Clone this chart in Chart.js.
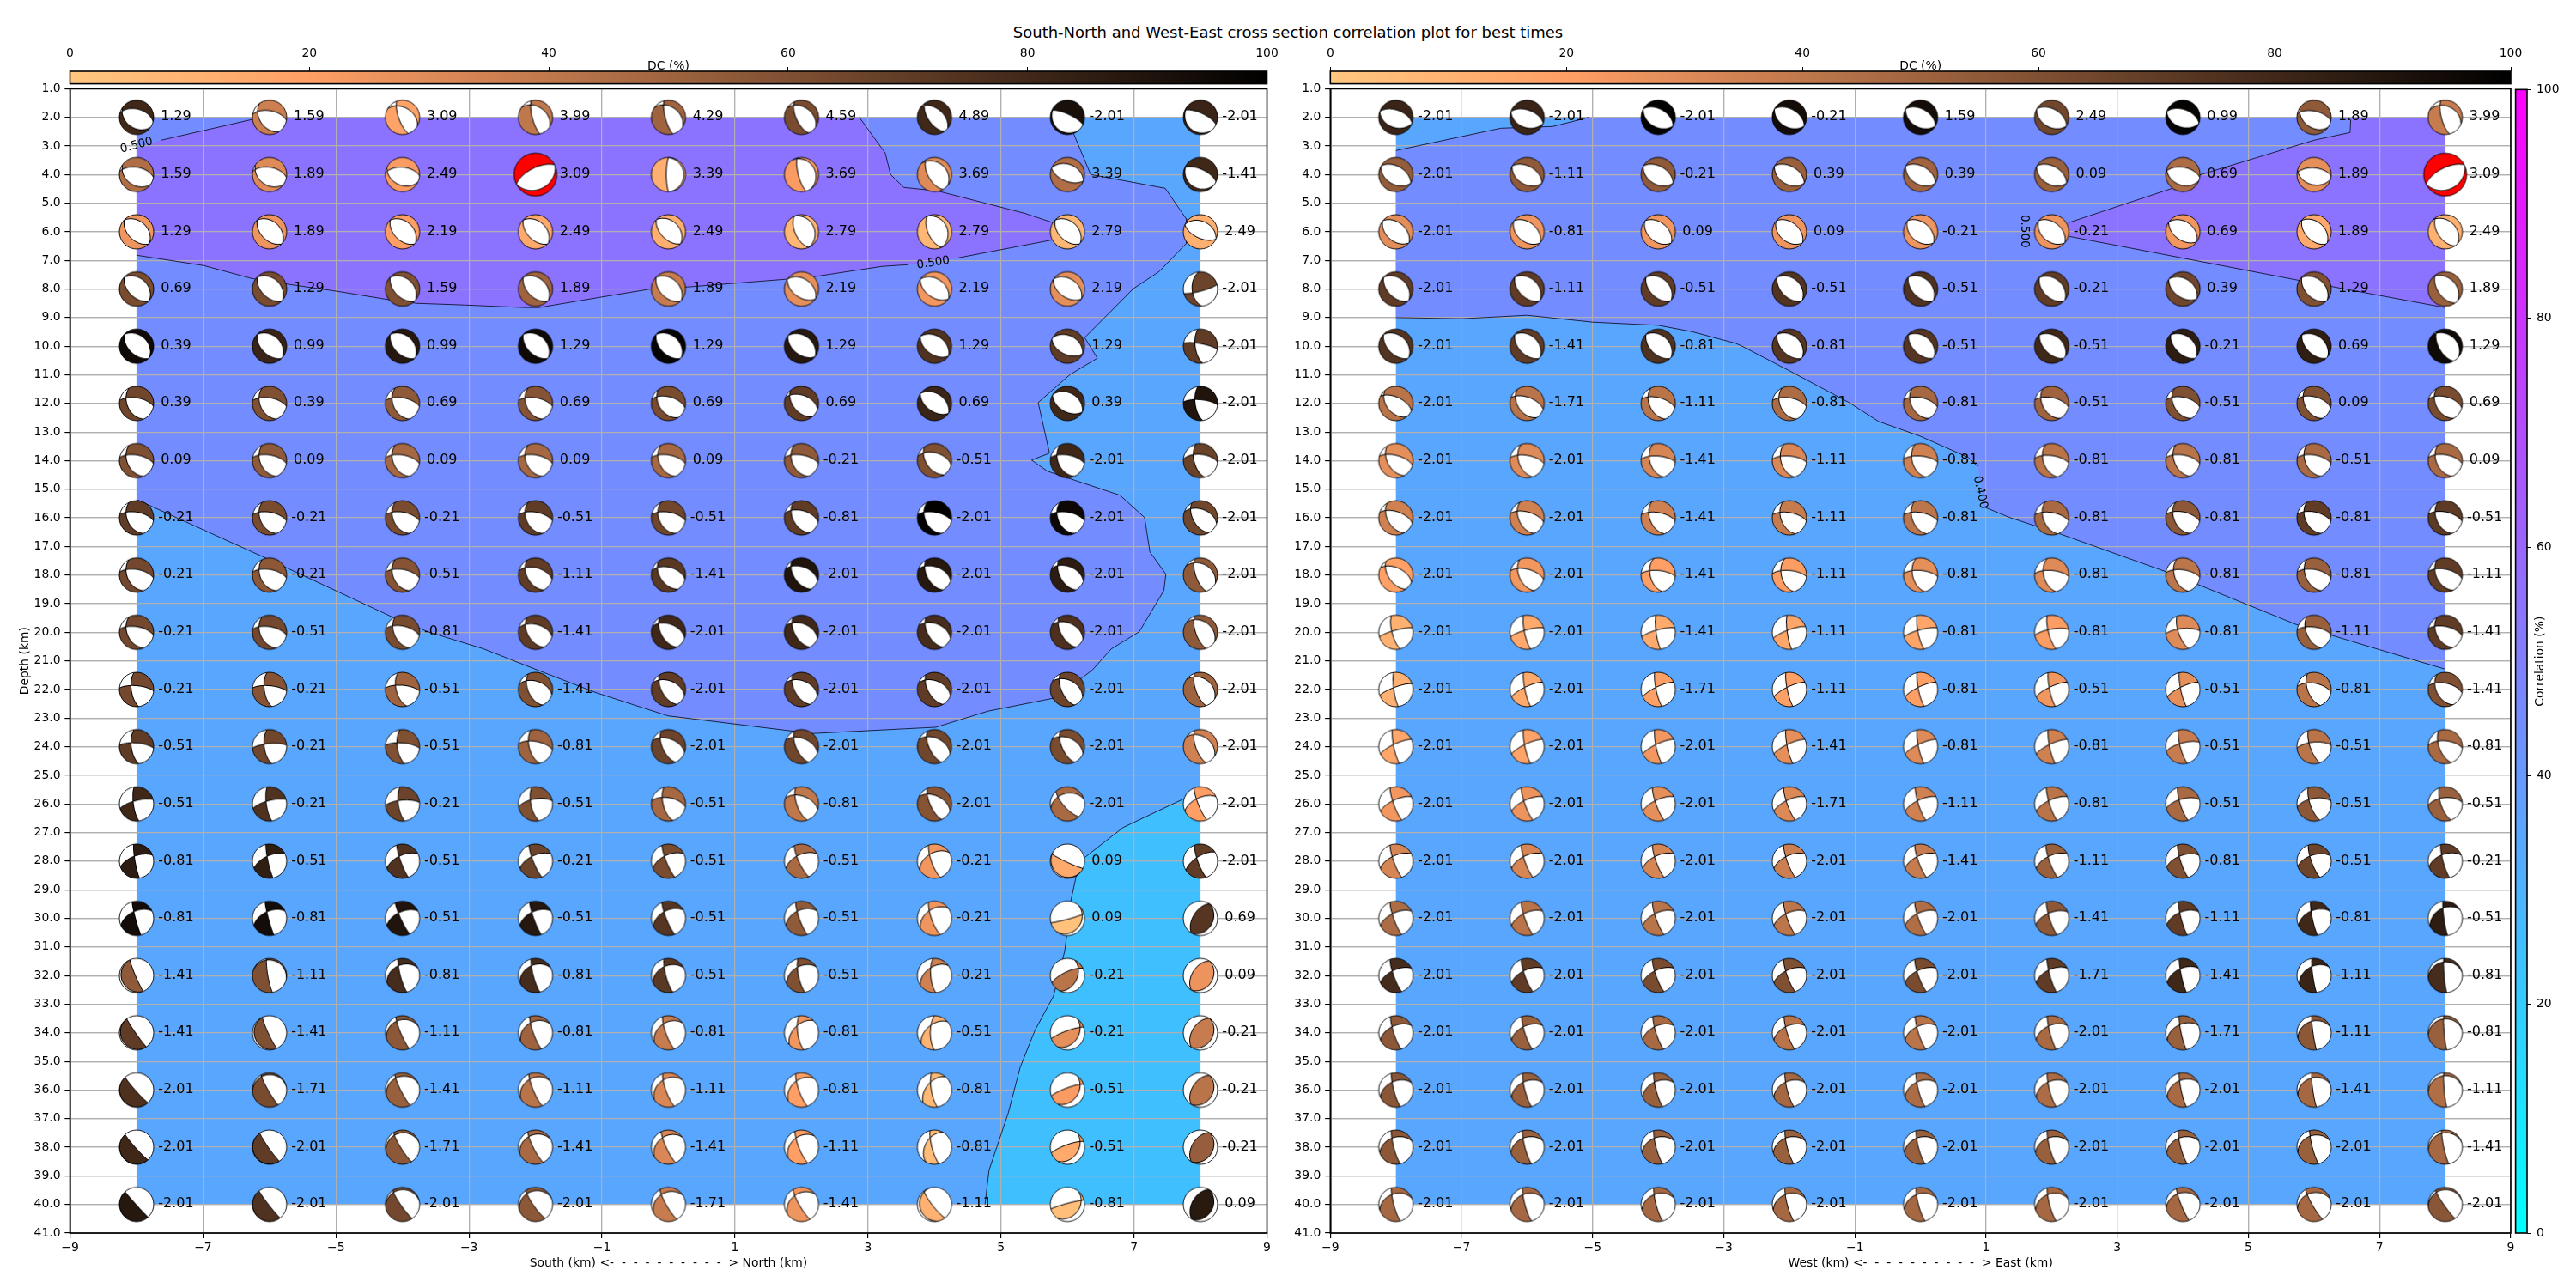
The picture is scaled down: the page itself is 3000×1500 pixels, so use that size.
<!DOCTYPE html>
<html>
<head>
<meta charset="utf-8">
<title>Cross section correlation plot</title>
<script src="https://cdn.jsdelivr.net/npm/chart.js@4"></script>
<style>
  html, body { margin: 0; padding: 0; background: #fff; width: 3000px; height: 1500px; overflow: hidden; }
  canvas { position: absolute; }
  #title { position: absolute; left: 0; width: 3000px; top: 26px; text-align: center; font: 18px "DejaVu Sans"; line-height: 24px; color: #000; }
</style>
</head>
<body>
<div id="title">South-North and West-East cross section correlation plot for best times</div>
<canvas id="leftPanel" width="1490" height="1410" style="left:0;top:90px"></canvas>
<canvas id="rightPanel" width="1444" height="1410" style="left:1490px;top:90px"></canvas>
<canvas id="leftDc" width="1490" height="50" style="left:0;top:50px"></canvas>
<canvas id="rightDc" width="1460" height="50" style="left:1490px;top:50px"></canvas>
<canvas id="corrBar" width="75" height="1410" style="left:2925px;top:90px"></canvas>
<script>
const columns = [-8, -6, -4, -2, 0, 2, 4, 6, 8]
const depths = [2, 4, 6, 8, 10, 12, 14, 16, 18, 20, 22, 24, 26, 28, 30, 32, 34, 36, 38, 40]
const xTickValues = [-9, -7, -5, -3, -1, 1, 3, 5, 7, 9]

// time shift labels, one row per depth
const leftTimes = [
  [1.29, 1.59, 3.09, 3.99, 4.29, 4.59, 4.89, -2.01, -2.01],
  [1.59, 1.89, 2.49, 3.09, 3.39, 3.69, 3.69, 3.39, -1.41],
  [1.29, 1.89, 2.19, 2.49, 2.49, 2.79, 2.79, 2.79, 2.49],
  [0.69, 1.29, 1.59, 1.89, 1.89, 2.19, 2.19, 2.19, -2.01],
  [0.39, 0.99, 0.99, 1.29, 1.29, 1.29, 1.29, 1.29, -2.01],
  [0.39, 0.39, 0.69, 0.69, 0.69, 0.69, 0.69, 0.39, -2.01],
  [0.09, 0.09, 0.09, 0.09, 0.09, -0.21, -0.51, -2.01, -2.01],
  [-0.21, -0.21, -0.21, -0.51, -0.51, -0.81, -2.01, -2.01, -2.01],
  [-0.21, -0.21, -0.51, -1.11, -1.41, -2.01, -2.01, -2.01, -2.01],
  [-0.21, -0.51, -0.81, -1.41, -2.01, -2.01, -2.01, -2.01, -2.01],
  [-0.21, -0.21, -0.51, -1.41, -2.01, -2.01, -2.01, -2.01, -2.01],
  [-0.51, -0.21, -0.51, -0.81, -2.01, -2.01, -2.01, -2.01, -2.01],
  [-0.51, -0.21, -0.21, -0.51, -0.51, -0.81, -2.01, -2.01, -2.01],
  [-0.81, -0.51, -0.51, -0.21, -0.51, -0.51, -0.21, 0.09, -2.01],
  [-0.81, -0.81, -0.51, -0.51, -0.51, -0.51, -0.21, 0.09, 0.69],
  [-1.41, -1.11, -0.81, -0.81, -0.51, -0.51, -0.21, -0.21, 0.09],
  [-1.41, -1.41, -1.11, -0.81, -0.81, -0.81, -0.51, -0.21, -0.21],
  [-2.01, -1.71, -1.41, -1.11, -1.11, -0.81, -0.81, -0.51, -0.21],
  [-2.01, -2.01, -1.71, -1.41, -1.41, -1.11, -0.81, -0.51, -0.21],
  [-2.01, -2.01, -2.01, -2.01, -1.71, -1.41, -1.11, -0.81, 0.09]
]
const rightTimes = [
  [-2.01, -2.01, -2.01, -0.21, 1.59, 2.49, 0.99, 1.89, 3.99],
  [-2.01, -1.11, -0.21, 0.39, 0.39, 0.09, 0.69, 1.89, 3.09],
  [-2.01, -0.81, 0.09, 0.09, -0.21, -0.21, 0.69, 1.89, 2.49],
  [-2.01, -1.11, -0.51, -0.51, -0.51, -0.21, 0.39, 1.29, 1.89],
  [-2.01, -1.41, -0.81, -0.81, -0.51, -0.51, -0.21, 0.69, 1.29],
  [-2.01, -1.71, -1.11, -0.81, -0.81, -0.51, -0.51, 0.09, 0.69],
  [-2.01, -2.01, -1.41, -1.11, -0.81, -0.81, -0.81, -0.51, 0.09],
  [-2.01, -2.01, -1.41, -1.11, -0.81, -0.81, -0.81, -0.81, -0.51],
  [-2.01, -2.01, -1.41, -1.11, -0.81, -0.81, -0.81, -0.81, -1.11],
  [-2.01, -2.01, -1.41, -1.11, -0.81, -0.81, -0.81, -1.11, -1.41],
  [-2.01, -2.01, -1.71, -1.11, -0.81, -0.51, -0.51, -0.81, -1.41],
  [-2.01, -2.01, -2.01, -1.41, -0.81, -0.81, -0.51, -0.51, -0.81],
  [-2.01, -2.01, -2.01, -1.71, -1.11, -0.81, -0.51, -0.51, -0.51],
  [-2.01, -2.01, -2.01, -2.01, -1.41, -1.11, -0.81, -0.51, -0.21],
  [-2.01, -2.01, -2.01, -2.01, -2.01, -1.41, -1.11, -0.81, -0.51],
  [-2.01, -2.01, -2.01, -2.01, -2.01, -1.71, -1.41, -1.11, -0.81],
  [-2.01, -2.01, -2.01, -2.01, -2.01, -2.01, -1.71, -1.11, -0.81],
  [-2.01, -2.01, -2.01, -2.01, -2.01, -2.01, -2.01, -1.41, -1.11],
  [-2.01, -2.01, -2.01, -2.01, -2.01, -2.01, -2.01, -2.01, -1.41],
  [-2.01, -2.01, -2.01, -2.01, -2.01, -2.01, -2.01, -2.01, -2.01]
]

// double couple percentage, sets the ball colour
const leftDc = [
  [80, 36, 18, 40, 50, 62, 80, 92, 82],
  [45, 30, 22, 40, 12, 22, 30, 45, 80],
  [25, 25, 20, 15, 12, 8, 8, 8, 12],
  [62, 62, 60, 50, 38, 28, 24, 28, 66],
  [95, 82, 88, 95, 98, 88, 75, 70, 70],
  [65, 60, 55, 58, 62, 70, 82, 80, 90],
  [60, 55, 48, 48, 48, 55, 60, 80, 67],
  [70, 62, 62, 70, 65, 70, 99, 96, 65],
  [64, 56, 58, 70, 72, 90, 88, 86, 55],
  [64, 64, 62, 70, 80, 80, 78, 76, 55],
  [64, 58, 50, 60, 70, 70, 70, 66, 50],
  [70, 65, 60, 50, 66, 65, 65, 62, 35],
  [80, 75, 66, 60, 48, 40, 58, 47, 20],
  [86, 85, 75, 66, 62, 47, 24, 15, 70],
  [94, 94, 90, 88, 73, 55, 25, 3, 73],
  [55, 60, 78, 78, 72, 60, 35, 42, 26],
  [70, 60, 56, 50, 38, 24, 10, 28, 38],
  [76, 62, 52, 42, 32, 20, 7, 22, 42],
  [80, 70, 56, 47, 32, 20, 5, 15, 53],
  [88, 75, 64, 56, 38, 25, 11, 4, 87]
]
const rightDc = [
  [82, 82, 99, 94, 94, 65, 98, 55, 38],
  [54, 55, 55, 52, 50, 52, 46, 28, 40],
  [29, 25, 24, 25, 25, 25, 24, 15, 11],
  [70, 70, 70, 74, 75, 70, 65, 60, 52],
  [74, 70, 75, 73, 73, 80, 86, 85, 95],
  [42, 42, 42, 46, 48, 50, 60, 60, 62],
  [28, 30, 33, 32, 35, 42, 42, 47, 47],
  [35, 35, 35, 38, 41, 47, 56, 70, 71],
  [19, 24, 20, 21, 28, 30, 41, 52, 70],
  [11, 15, 14, 16, 17, 21, 30, 52, 70],
  [11, 15, 19, 19, 20, 24, 28, 42, 60],
  [16, 18, 24, 28, 30, 35, 38, 42, 47],
  [24, 26, 28, 31, 35, 42, 47, 56, 52],
  [33, 33, 33, 36, 38, 52, 60, 66, 70],
  [46, 42, 42, 41, 45, 56, 70, 80, 86],
  [78, 70, 62, 60, 62, 70, 80, 82, 78],
  [56, 52, 47, 42, 42, 47, 52, 56, 52],
  [57, 52, 52, 48, 46, 46, 47, 48, 45],
  [56, 52, 52, 52, 52, 52, 52, 52, 48],
  [48, 48, 48, 48, 48, 48, 48, 48, 57]
]

// nodal planes: dip direction 1, dip 1, dip direction 2, dip 2, and 1 when the centre is coloured
const g = [10, 63, 245, 45]
const dipA = [225, 52, 42, 36]
const oblA = [335, 63, 250, 80]
const oblB = [335, 76, 258, 80]
const thrustR = [302, 50, 122, 28, 1]
const thrustM = [340, 80, 125, 36, 1]
const tilt = [5, 72, 262, 65]
const flat = [30, 50, 210, 42]
const leftPlanes = [
  [[15, 50, 215, 38], [10, 58, 235, 42], [30, 42, 250, 72], [35, 38, 255, 75], [35, 38, 255, 75], [35, 40, 245, 65], [40, 48, 235, 60], [25, 75, 225, 14], [25, 70, 225, 14]],
  [[10, 55, 215, 38], [10, 55, 215, 38], [5, 55, 205, 38], [333, 65, 155, 30], [270, 80, 85, 12], [255, 75, 60, 20], [240, 60, 40, 30], [202, 58, 22, 40], [25, 65, 215, 20]],
  [[225, 50, 42, 38], [225, 50, 42, 38], [225, 50, 42, 38], [225, 52, 42, 38], [225, 55, 45, 36], [245, 60, 65, 25], [245, 60, 65, 25], [225, 50, 42, 38], [205, 60, 25, 38]],
  [dipA, dipA, dipA, dipA, [225, 50, 42, 38], [215, 50, 35, 40], [215, 50, 35, 40], [215, 50, 35, 40], [265, 50, 165, 80, 1]],
  [dipA, dipA, dipA, dipA, dipA, [218, 50, 38, 38], [215, 50, 35, 40], [205, 50, 28, 38], [262, 65, 10, 78]],
  [g, g, g, g, [15, 58, 235, 45], [20, 50, 230, 50], [215, 52, 35, 42], [210, 50, 30, 38], [262, 65, 5, 72]],
  [g, g, g, g, g, g, [15, 52, 235, 50], g, [5, 60, 255, 60]],
  [g, g, g, g, g, [15, 55, 240, 50], g, g, [20, 48, 240, 55]],
  [g, g, g, [15, 55, 240, 50], [15, 52, 235, 50], [20, 50, 235, 55], [20, 50, 240, 55], [22, 48, 240, 55], [30, 35, 250, 68]],
  [g, g, [12, 60, 245, 50], [15, 52, 240, 52], [20, 50, 240, 55], [22, 48, 240, 58], [22, 48, 240, 58], [25, 45, 240, 60], [35, 35, 250, 68]],
  [tilt, tilt, [5, 70, 255, 60], [18, 50, 245, 55], [22, 48, 240, 58], [22, 48, 240, 58], [22, 48, 240, 60], [28, 45, 245, 62], [35, 35, 250, 68]],
  [tilt, [355, 75, 262, 65], tilt, [10, 65, 255, 60], [20, 52, 245, 62], [22, 50, 245, 65], [25, 48, 245, 65], [25, 48, 245, 65], [35, 40, 250, 68]],
  [[345, 74, 262, 75], [345, 74, 262, 75], [355, 72, 262, 70], [350, 66, 258, 68], [10, 60, 255, 65], [20, 52, 250, 68], [25, 50, 245, 70], [345, 38, 228, 72], [335, 60, 248, 80]],
  [[340, 64, 260, 83], [335, 64, 258, 83], [335, 62, 250, 82], [335, 62, 248, 80], [335, 60, 248, 80], [335, 58, 245, 78], [330, 50, 250, 76], [205, 85, 215, 8], [328, 66, 250, 78]],
  [[335, 55, 255, 85], [335, 56, 255, 85], [335, 58, 245, 82], [335, 56, 250, 82], [332, 52, 248, 80], [335, 50, 250, 80], [325, 45, 250, 76], [165, 86, 130, 20], [302, 55, 120, 28, 1]],
  [[247, 85, 247, 12], [260, 82, 15, 10], [255, 80, 335, 38], [255, 80, 335, 38], [255, 78, 335, 42], [258, 76, 330, 45], [265, 72, 325, 48], [335, 72, 115, 42, 1], thrustR],
  [[235, 86, 235, 8], [245, 84, 250, 12], [247, 82, 340, 25], [250, 80, 330, 35], [250, 78, 325, 40], [262, 72, 315, 50], [270, 70, 320, 50], thrustM, thrustR],
  [[228, 85, 228, 2], [240, 84, 350, 12], [243, 82, 340, 22], [247, 80, 330, 30], [250, 78, 325, 35], [250, 78, 320, 40], [260, 75, 310, 50], thrustM, thrustR],
  [[228, 85, 228, 2], [235, 85, 230, 3], [238, 82, 345, 18], [243, 80, 335, 28], [245, 80, 325, 35], [248, 78, 320, 38], [255, 78, 300, 45], [340, 78, 125, 36, 1], thrustR],
  [[228, 88, 228, 2], [232, 86, 232, 2], [235, 82, 350, 15], [235, 80, 340, 22], [240, 80, 330, 30], [240, 80, 325, 35], [232, 80, 255, 15], [345, 85, 130, 30, 1], [300, 50, 120, 28, 1]]
]
const rightPlanes = [
  [[20, 55, 200, 40], [20, 55, 200, 40], flat, flat, flat, flat, [20, 52, 200, 42], [12, 60, 215, 40], [25, 35, 255, 72]],
  [flat, flat, flat, flat, flat, flat, [10, 55, 200, 38], [5, 58, 195, 40], [333, 65, 155, 30]],
  [[40, 45, 220, 45], [40, 45, 220, 42], [40, 45, 220, 42], [40, 45, 220, 42], [40, 45, 220, 42], [40, 45, 220, 42], [35, 40, 215, 50], [40, 40, 225, 50], [45, 36, 235, 55]],
  [dipA, dipA, dipA, dipA, dipA, [225, 50, 40, 38], [215, 50, 35, 40], [225, 50, 40, 38], [235, 55, 45, 36]],
  [dipA, dipA, dipA, dipA, [225, 55, 38, 38], [225, 55, 38, 38], [225, 55, 38, 38], [225, 55, 38, 38], [240, 60, 40, 32]],
  [[25, 60, 230, 45], [20, 60, 235, 45], [15, 62, 245, 48], g, [12, 62, 240, 46], [12, 62, 240, 46], [12, 60, 240, 46], [15, 58, 240, 46], [15, 58, 240, 46]],
  [[15, 65, 240, 50], [10, 65, 250, 50], [5, 68, 252, 50], [5, 68, 252, 50], [5, 68, 252, 50], [8, 66, 250, 50], [10, 63, 245, 50], [10, 63, 245, 48], [10, 62, 245, 48]],
  [[18, 60, 240, 50], [15, 62, 245, 50], [10, 65, 248, 50], [10, 65, 248, 50], [10, 65, 248, 50], [10, 65, 248, 50], [12, 62, 245, 48], [12, 62, 245, 48], [12, 62, 245, 48]],
  [[25, 55, 235, 55], [15, 62, 245, 52], [5, 68, 255, 52], [5, 68, 255, 52], [5, 68, 255, 52], [5, 68, 255, 52], [8, 65, 250, 50], [10, 63, 245, 50], [12, 62, 242, 48]],
  [[345, 80, 255, 72], [345, 78, 258, 78], [345, 78, 262, 80], [340, 78, 262, 80], [345, 78, 258, 78], [350, 75, 255, 75], [355, 72, 250, 70], [8, 65, 245, 55], [12, 62, 242, 48]],
  [[340, 78, 262, 80], oblB, oblB, oblB, oblB, oblB, oblB, [10, 60, 248, 60], [12, 60, 242, 48]],
  [oblB, oblB, oblB, oblB, oblB, oblB, [345, 72, 255, 78], [355, 68, 250, 72], [5, 62, 248, 62]],
  [[335, 70, 250, 80], [335, 70, 250, 80], [335, 70, 250, 80], [335, 70, 250, 80], [335, 70, 252, 80], [335, 70, 252, 80], [345, 66, 252, 78], [350, 64, 250, 72], [355, 60, 250, 70]],
  [oblA, oblA, oblA, oblA, oblA, oblA, [340, 62, 252, 80], [342, 60, 250, 78], [340, 56, 255, 80]],
  [oblA, oblA, oblA, oblA, oblA, [338, 62, 252, 80], [338, 58, 255, 82], [335, 52, 258, 82], [330, 40, 262, 84]],
  [oblA, oblA, oblA, oblA, oblA, [335, 60, 254, 82], [335, 55, 258, 83], [330, 46, 262, 84], [350, 22, 265, 85]],
  [[335, 56, 252, 80], [335, 56, 252, 80], [335, 56, 252, 80], [335, 56, 252, 80], [335, 56, 252, 80], [335, 54, 255, 82], [335, 48, 258, 82], [340, 32, 262, 85], [350, 20, 265, 85]],
  [[335, 48, 255, 80], [335, 48, 255, 80], [335, 48, 255, 80], [335, 48, 255, 80], [335, 48, 255, 80], [335, 48, 255, 80], [335, 42, 258, 82], [340, 30, 262, 84], [350, 18, 265, 85]],
  [[340, 42, 255, 80], [340, 42, 255, 80], [340, 42, 255, 80], [340, 42, 255, 80], [340, 42, 255, 80], [340, 42, 255, 80], [340, 42, 255, 80], [340, 32, 255, 82], [345, 18, 258, 83]],
  [[340, 38, 255, 80], [340, 38, 255, 80], [340, 38, 255, 80], [340, 38, 255, 80], [340, 38, 255, 80], [340, 38, 255, 80], [345, 32, 248, 82], [345, 32, 240, 82], [350, 15, 235, 84]]
]

// best solution of each panel: [depth row, column]
const leftBest = [1, 3]
const rightBest = [1, 8]

const left04 = [[5.99, 2], [6.35, 4], [7.47, 4.48], [7.79, 5.56], [7.79, 6.4], [7.38, 7.39], [6.99, 7.99], [6.26, 9.7], [6.45, 10.42], [6.04, 10.99], [5.56, 11.97], [5.73, 13.74], [5.46, 13.98], [5.7, 14.37], [6.79, 15.21], [7.16, 15.99], [7.24, 17.19], [7.48, 17.97], [7.45, 18.54], [7.08, 19.98], [6.66, 20.58], [6.37, 21.33], [5.82, 22.29], [4.8, 22.76], [4.02, 23.32], [2.16, 23.54], [-0.01, 22.92], [-1.09, 22.11], [-1.96, 21.33], [-2.78, 20.58], [-3.62, 19.98], [-4.15, 19.47], [-6.09, 17.37], [-8, 15.36]]
const left05a = [[-8, 3.1], null, [-7.63, 2.8], [-6.27, 2.08], [-6.18, 2]]
const left05b = [[2.87, 2], [3.26, 3.25], [3.34, 4], [3.54, 4.45], [4.04, 4.57], [5.35, 5.35], [5.78, 5.68], [5.99, 6], [5.78, 6.28], [4.36, 6.91], null, [3.61, 7.15], [3.21, 7.21], [2.19, 7.57], [1.76, 7.66], [0.28, 7.93], [-0.24, 7.99], [-1.03, 8.29], [-1.95, 8.65], [-2.15, 8.65], [-3.07, 8.56], [-3.79, 8.5], [-4.19, 8.38], [-4.98, 8.08], [-5.7, 7.84], [-6.27, 7.63], [-6.99, 7.18], [-8, 6.82]]
const left03 = [[8, 25.62], [7.74, 25.83], [6.84, 26.82], [6.26, 27.87], [6.13, 28.54], [6.05, 29.4], [5.99, 30.57], [5.96, 31.13], [5.79, 32.72], [5.51, 33.92], [5.29, 35.2], [5.11, 36.8], [4.82, 38.81], [4.76, 40]]
const right04a = [[-8, 3.16], [-6.4, 2.38], [-5.61, 2.32], [-5.19, 2.08], [-5.06, 2]]
const right04b = [[-8, 9], [-7, 9.04], [-6, 8.92], [-5, 9.16], [-4, 9.27], [-3.49, 9.49], [-2.82, 9.9], [-2.73, 9.99], [-1.94, 10.93], [-1.09, 11.97], [-0.64, 12.63], [-0.01, 13.14], [0.73, 13.89], [0.87, 14.19], null, [0.98, 15.63], [1.35, 15.98], [2.15, 16.58], [3.8, 17.93], [5.73, 19.73], [6.87, 20.52], [8, 21.29]]
const right05 = [[6.56, 2.08], [6.55, 2.53], [6, 2.8], [4.29, 3.99], [3.84, 4.48], [2.26, 5.68], null, [1.6, 6], null, [2.26, 6.16], [3.02, 6.49], [5.75, 7.69], [6.8, 8.14], [8, 8.65]]

// contour label: text, km, depth, rotation
const leftContourLabels = [['0.500', -8, 2.98, -15], ['0.500', 3.98, 7.09, -9], ['0.400', 5.97, 21.96, -50]]
const rightContourLabels = [['0.500', 1.58, 5.98, 90], ['0.400', 0.91, 15.11, 78]]

const FONT = '"DejaVu Sans"'
Chart.defaults.font.family = FONT
Chart.defaults.font.size = 13.9
Chart.defaults.color = '#000'

function coolColor(v) {
  return `rgb(${Math.round(255 * v)},${Math.round(255 * (1 - v))},255)`
}

function copperColor(dc) {
  const v = 1 - dc / 100
  return [Math.min(1, 1.25 * v) * 255, 0.7812 * v * 255, 0.4975 * v * 255].map(Math.round)
}

function pole(dipDir, dip) {
  const a = dipDir * Math.PI / 180, d = dip * Math.PI / 180
  return [-Math.sin(d) * Math.cos(a), -Math.sin(d) * Math.sin(a), Math.cos(d)]
}

// lower hemisphere equal area ball, supersampled so the edges stay soft
function makeBall(planes, rgb, radius) {
  const ss = 4
  const size = 2 * radius + 4
  const n = size * ss
  const R = radius * ss
  const c = n / 2
  const p1 = pole(planes[0], planes[1])
  const p2 = pole(planes[2], planes[3])
  const sign = planes[4] ? 1 : -1
  const grid = new Int8Array(n * n)
  for (let iy = 0; iy < n; iy++) {
    for (let ix = 0; ix < n; ix++) {
      const dx = (ix + 0.5 - c) / R
      const dy = (iy + 0.5 - c) / R
      const rho = Math.hypot(dx, dy)
      if (rho > 1) continue
      const t = 2 * Math.asin(rho / Math.SQRT2)
      const h = rho > 0 ? Math.sin(t) / rho : 0
      const N = -dy * h, E = dx * h, D = Math.cos(t)
      const val = sign * (N * p1[0] + E * p1[1] + D * p1[2]) * (N * p2[0] + E * p2[1] + D * p2[2])
      grid[iy * n + ix] = val > 0 ? 2 : 1
    }
  }
  const canvas = document.createElement('canvas')
  canvas.width = canvas.height = size
  const ctx = canvas.getContext('2d')
  const img = ctx.createImageData(size, size)
  const w = 2
  for (let y = 0; y < size; y++) {
    for (let x = 0; x < size; x++) {
      let r = 0, gr = 0, b = 0, a = 0
      for (let sy = 0; sy < ss; sy++) {
        for (let sx = 0; sx < ss; sx++) {
          const ix = x * ss + sx, iy = y * ss + sy
          const v = grid[iy * n + ix]
          if (!v) continue
          a++
          const nbs = [grid[iy * n + ix + w], grid[iy * n + ix - w], grid[(iy + w) * n + ix], grid[(iy - w) * n + ix]]
          if (nbs.some(o => o && o !== v)) continue
          if (v === 2) { r += rgb[0]; gr += rgb[1]; b += rgb[2] } else { r += 255; gr += 255; b += 255 }
        }
      }
      const i = (y * size + x) * 4
      if (a) {
        img.data[i] = r / a
        img.data[i + 1] = gr / a
        img.data[i + 2] = b / a
        img.data[i + 3] = 255 * a / (ss * ss)
      }
    }
  }
  ctx.putImageData(img, 0, 0)
  ctx.beginPath()
  ctx.arc(size / 2, size / 2, radius, 0, Math.PI * 2)
  ctx.lineWidth = 0.9
  ctx.strokeStyle = '#000'
  ctx.stroke()
  return canvas
}

const contourLine = pts => pts.map(p => p ? { x: p[0], y: p[1] } : { x: null, y: null })
const shape = pts => pts.filter(Boolean).map(p => ({ x: p[0], y: p[1] }))

function fillSet(pts, level, order) {
  return { type: 'scatter', label: 'fill', data: shape(pts), showLine: true, fill: 'shape', backgroundColor: coolColor(level), borderWidth: 0, pointRadius: 0, order }
}

function lineSet(pts) {
  return { type: 'scatter', label: 'contour', data: contourLine(pts), showLine: true, fill: false, borderColor: 'rgba(20,20,50,0.9)', borderWidth: 1, pointRadius: 0, order: 1 }
}

function buildPanel(id, cfg) {
  const points = [], labels = [], images = []
  depths.forEach((d, r) => columns.forEach((x, c) => {
    const best = cfg.best[0] === r && cfg.best[1] === c
    points.push({ x, y: d })
    labels.push(cfg.times[r][c].toFixed(2))
    images.push(makeBall(cfg.planes[r][c], best ? [255, 0, 0] : copperColor(cfg.dc[r][c]), best ? 25 : 20))
  }))

  const gridOverFill = {
    id: 'gridOverFill',
    afterDatasetDraw(chart, args) {
      if (chart.data.datasets[args.index].gridAfter) {
        chart.scales.x.drawGrid(chart.chartArea)
        chart.scales.y.drawGrid(chart.chartArea)
      }
    },
    beforeDatasetDraw(chart, args) {
      if (chart.data.datasets[args.index].label !== 'balls') return
      const ctx = chart.ctx
      ctx.save()
      ctx.font = '13.5px ' + FONT
      ctx.fillStyle = '#000'
      ctx.textAlign = 'center'
      ctx.textBaseline = 'middle'
      cfg.contourLabels.forEach(([t, x, y, rot]) => {
        ctx.save()
        ctx.translate(chart.scales.x.getPixelForValue(x), chart.scales.y.getPixelForValue(y))
        ctx.rotate(rot * Math.PI / 180)
        ctx.fillText(t, 0, 0)
        ctx.restore()
      })
      ctx.restore()
    },
    afterDatasetsDraw(chart) {
      const ctx = chart.ctx
      const a = chart.chartArea
      ctx.save()
      ctx.font = '16px ' + FONT
      ctx.fillStyle = '#000'
      ctx.textAlign = 'center'
      ctx.textBaseline = 'middle'
      points.forEach((p, i) => {
        ctx.fillText(labels[i], chart.scales.x.getPixelForValue(p.x) + 46, chart.scales.y.getPixelForValue(p.y) - 0.5)
      })
      ctx.strokeStyle = '#000'
      ctx.lineWidth = 1.6
      ctx.strokeRect(a.left, a.top, a.right - a.left, a.bottom - a.top)
      ctx.restore()
    }
  }

  new Chart(document.getElementById(id), {
    type: 'scatter',
    data: {
      datasets: [
        { label: 'balls', data: points, pointStyle: c => images[c.dataIndex], pointRadius: 20, clip: false, order: 0 },
        ...cfg.lines.map(lineSet),
        ...cfg.fills.map((f, i) => {
          const set = fillSet(f[0], f[1], 10 - i)
          if (i === cfg.fills.length - 1) set.gridAfter = true
          return set
        })
      ]
    },
    options: {
      responsive: false,
      animation: false,
      devicePixelRatio: 1,
      events: [],
      layout: { autoPadding: false, padding: cfg.padding },
      plugins: { legend: { display: false }, tooltip: { enabled: false } },
      scales: {
        x: {
          min: -9, max: 9,
          afterBuildTicks: s => { s.ticks = xTickValues.map(value => ({ value })) },
          afterFit: s => { s.height = 64 },
          grid: { color: '#b0b0b0', lineWidth: 1.2, tickLength: 6, tickColor: '#000', tickWidth: 1 },
          border: { color: '#000', width: 1.6 },
          ticks: { maxRotation: 0, padding: 3, autoSkip: false, callback: v => String(v).replace('-', '\u2212') },
          title: { display: true, text: cfg.xTitle, padding: { top: 0, bottom: 20 } }
        },
        y: {
          reverse: true,
          min: 1, max: 41,
          afterFit: s => { s.width = cfg.yWidth },
          grid: { color: '#b0b0b0', lineWidth: 1.2, tickLength: 6, tickColor: '#000', tickWidth: 1 },
          border: { color: '#000', width: 1.6 },
          ticks: { stepSize: 1, autoSkip: false, padding: 5, callback: v => v.toFixed(1) },
          title: { display: !!cfg.yTitle, text: cfg.yTitle, padding: { top: 21, bottom: 0 } }
        }
      }
    },
    plugins: [gridOverFill]
  })
}

function gradientFor(chart, horizontal, stops) {
  const a = chart.chartArea
  if (!a) return '#000'
  const g = horizontal
    ? chart.ctx.createLinearGradient(a.left, 0, a.right, 0)
    : chart.ctx.createLinearGradient(0, a.bottom, 0, a.top)
  stops.forEach(([at, color]) => g.addColorStop(at, color))
  return g
}

const dcStops = [0, 5, 10, 15, 20, 25, 30, 35, 40, 45, 50, 55, 60, 65, 70, 75, 80, 85, 90, 95, 100]
  .map(d => [d / 100, `rgb(${copperColor(d).join(',')})`])
const corrStops = [0, 0.25, 0.5, 0.75, 1].map(v => [v, coolColor(v)])

const frameBar = {
  id: 'frameBar',
  afterDatasetsDraw(chart) {
    const a = chart.chartArea, ctx = chart.ctx
    ctx.save()
    ctx.strokeStyle = '#000'
    ctx.lineWidth = 1.6
    ctx.strokeRect(a.left, a.top, a.right - a.left, a.bottom - a.top)
    const text = chart.options.plugins.frameBar
    ctx.fillStyle = '#000'
    ctx.textAlign = 'center'
    ctx.textBaseline = 'middle'
    ctx.font = '13.9px ' + FONT
    if (text.horizontal) {
      ctx.fillText(text.label, (a.left + a.right) / 2, text.at)
    } else {
      ctx.translate(text.at, (a.top + a.bottom) / 2)
      ctx.rotate(-Math.PI / 2)
      ctx.fillText(text.label, 0, 0)
    }
    ctx.restore()
  }
}

function buildDcBar(id, padLeft, padRight) {
  new Chart(document.getElementById(id), {
    type: 'bar',
    data: { labels: [''], datasets: [{ data: [100], backgroundColor: c => gradientFor(c.chart, true, dcStops), barPercentage: 1, categoryPercentage: 1 }] },
    options: {
      indexAxis: 'y',
      responsive: false,
      animation: false,
      devicePixelRatio: 1,
      events: [],
      layout: { autoPadding: false, padding: { left: padLeft, right: padRight, top: 0, bottom: 2.4 } },
      plugins: { legend: { display: false }, tooltip: { enabled: false }, frameBar: { horizontal: true, label: 'DC (%)', at: 27 } },
      scales: {
        y: { display: false },
        x: {
          position: 'top', min: 0, max: 100,
          afterFit: s => { s.height = 33; s.paddingLeft = 0; s.paddingRight = 0 },
          grid: { drawOnChartArea: false, tickLength: 5, tickColor: '#000', tickWidth: 1 },
          border: { display: false },
          ticks: { stepSize: 20, padding: 7, maxRotation: 0 }
        }
      }
    },
    plugins: [frameBar]
  })
}

function buildCorrBar() {
  new Chart(document.getElementById('corrBar'), {
    type: 'bar',
    data: { labels: [''], datasets: [{ data: [100], backgroundColor: c => gradientFor(c.chart, false, corrStops), barPercentage: 1, categoryPercentage: 1 }] },
    options: {
      responsive: false,
      animation: false,
      devicePixelRatio: 1,
      events: [],
      layout: { autoPadding: false, padding: { left: 4.6, right: 0, top: 12, bottom: 64 } },
      plugins: { legend: { display: false }, tooltip: { enabled: false }, frameBar: { horizontal: false, label: 'Correlation (%)', at: 33 } },
      scales: {
        x: { display: false },
        y: {
          position: 'right', min: 0, max: 100,
          afterFit: s => { s.width = 57 },
          grid: { drawOnChartArea: false, tickLength: 5, tickColor: '#000', tickWidth: 1 },
          border: { display: false },
          ticks: { stepSize: 20, padding: 6 }
        }
      }
    },
    plugins: [frameBar]
  })
}

buildPanel('leftPanel', {
  times: leftTimes, dc: leftDc, planes: leftPlanes, best: leftBest,
  contourLabels: leftContourLabels,
  xTitle: 'South (km) <-  -  -  -  -  -  -  -  -  -  > North (km)', yTitle: 'Depth (km)', yWidth: 81.5,
  padding: { left: 0, right: 14.5, top: 12, bottom: 0 },
  lines: [left04, left05a, left05b, left03],
  fills: [
    [[[-8, 2], [8, 2], [8, 40], [-8, 40]], 0.35],
    [[...left03, [8, 40]], 0.25],
    [[[-8, 2], ...left04], 0.45],
    [[...left05a, ...left05b], 0.55]
  ]
})

buildPanel('rightPanel', {
  times: rightTimes, dc: rightDc, planes: rightPlanes, best: rightBest,
  contourLabels: rightContourLabels,
  xTitle: 'West (km) <-  -  -  -  -  -  -  -  -  -  > East (km)', yTitle: '', yWidth: 59.3,
  padding: { left: 0, right: 10, top: 12, bottom: 0 },
  lines: [right04a, right04b, right05],
  fills: [
    [[[-8, 2], [8, 2], [8, 40], [-8, 40]], 0.35],
    [[...right04a, [8, 2], [8, 21.29], ...right04b.slice().reverse()], 0.45],
    [[[6.56, 2], ...right05, [8, 2]], 0.55]
  ]
})

buildDcBar('leftDc', 81.5, 14.5)
buildDcBar('rightDc', 59.3, 26)
buildCorrBar()
</script>
</body>
</html>
